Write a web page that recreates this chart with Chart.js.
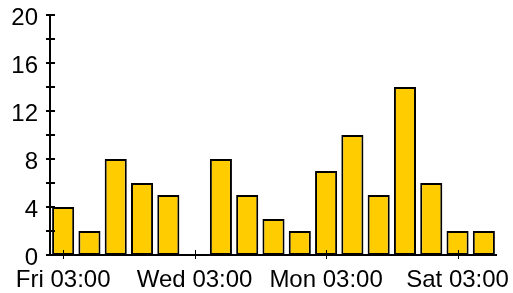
<!DOCTYPE html>
<html><head><meta charset="utf-8">
<script src="https://cdn.jsdelivr.net/npm/chart.js@4/dist/chart.umd.min.js"></script>
<style>html,body{margin:0;padding:0;background:#fff}#c{display:block}</style>
</head><body>
<canvas id="c" width="513" height="293"></canvas>
<script>
const categories = ["Fri 03:00","Sat 03:00","Sun 03:00","Mon 03:00","Tue 03:00","Wed 03:00","Thu 03:00","Fri 03:00","Sat 03:00","Sun 03:00","Mon 03:00","Tue 03:00","Wed 03:00","Thu 03:00","Fri 03:00","Sat 03:00","Sun 03:00"];
const values = [4,2,8,6,5,0,8,5,3,2,7,10,5,14,6,2,2];
const yMax = 20;
const yTickStep = 2;
const yLabelEvery = 4;
const xLabelEvery = 5;

const crossTicks = {
  id: 'crossTicks',
  afterDraw(chart) {
    const ctx = chart.ctx, x = chart.scales.x, y = chart.scales.y;
    const ax = chart.chartArea.left, ay = chart.chartArea.bottom;
    ctx.save();
    ctx.strokeStyle = '#000';
    ctx.lineWidth = 2;
    ctx.beginPath();
    ctx.moveTo(ax, chart.chartArea.top); ctx.lineTo(ax, ay + 1);
    ctx.moveTo(ax - 1, ay); ctx.lineTo(chart.chartArea.right, ay);
    ctx.stroke();
    ctx.lineWidth = 2;
    ctx.beginPath();
    for (let v = 0; v <= yMax; v += yTickStep) {
      const py = Math.round(y.getPixelForValue(v));
      ctx.moveTo(ax - 4, py); ctx.lineTo(ax + 5, py);
    }
    ctx.stroke();
    ctx.lineWidth = 1;
    ctx.beginPath();
    categories.forEach((c, i) => {
      if (i % xLabelEvery === 0) {
        const px = Math.round(x.getPixelForValue(i)) + 0.5;
        ctx.moveTo(px, ay - 5); ctx.lineTo(px, ay + 4);
      }
    });
    ctx.stroke();
    ctx.restore();
  }
};

const FONT = { family: 'Liberation Sans, Arial, sans-serif', size: 24 };

new Chart(document.getElementById('c'), {
  type: 'bar',
  data: {
    labels: categories,
    datasets: [{
      data: values,
      backgroundColor: '#FFCC00',
      borderColor: '#000',
      borderWidth: 2,
      borderSkipped: false,
      categoryPercentage: 1,
      barPercentage: 0.84
    }]
  },
  options: {
    responsive: false,
    animation: false,
    layout: { padding: { top: 15, right: 16, left: 0, bottom: 0 } },
    plugins: { legend: { display: false }, tooltip: { enabled: false } },
    scales: {
      x: {
        grid: { display: false, drawTicks: false },
        border: { display: false },
        ticks: {
          autoSkip: false, maxRotation: 0, padding: 11, color: '#000',
          font: FONT,
          callback: (v, i) => i % xLabelEvery === 0 ? categories[i] : null
        },
        afterFit: s => { s.height = 38; s.paddingLeft = 0; s.paddingRight = 0; }
      },
      y: {
        min: 0, max: yMax,
        grid: { display: false, drawTicks: false },
        border: { display: false },
        ticks: {
          stepSize: yTickStep, padding: 12, color: '#000', labelOffset: 3,
          font: FONT,
          callback: v => v % yLabelEvery === 0 ? String(v) : ''
        },
        afterFit: s => { s.width = 50; s.paddingTop = 0; s.paddingBottom = 0; }
      }
    }
  },
  plugins: [crossTicks]
});
</script>
</body></html>
